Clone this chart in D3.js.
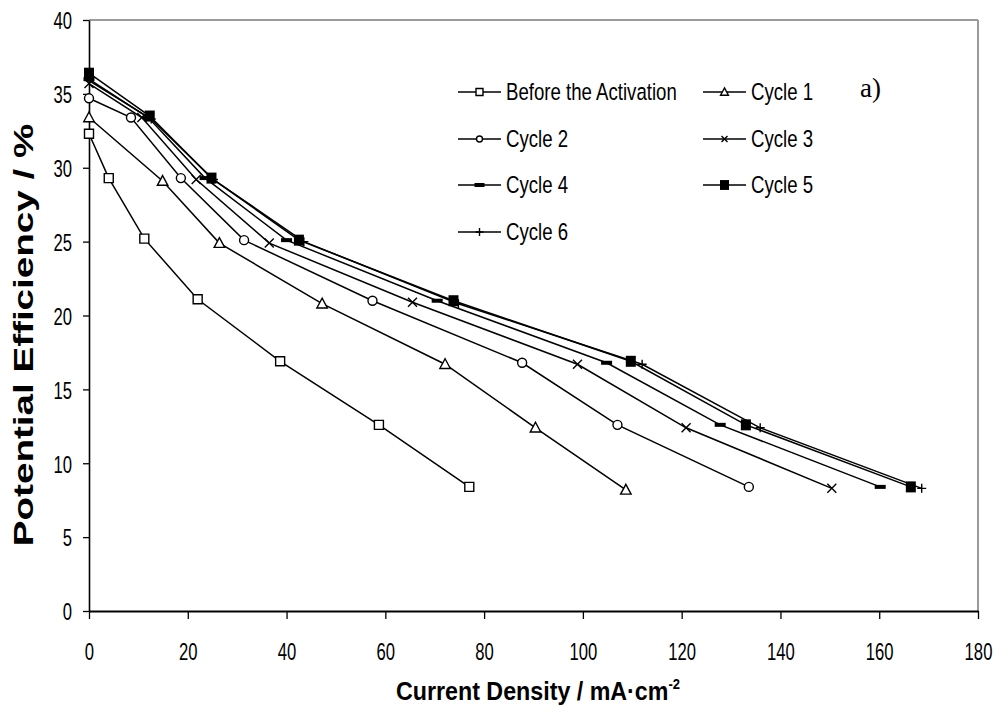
<!DOCTYPE html>
<html>
<head>
<meta charset="utf-8">
<script src="https://cdn.jsdelivr.net/npm/d3@7"></script>
<style>
  body { margin: 0; background: #fff; }
  svg { display: block; }
  text { font-family: "Liberation Sans", Arial, sans-serif; fill: #000; }
</style>
</head>
<body>
<div id="chart"></div>
<script>
// values
var seriesNames = ['Before the Activation', 'Cycle 1', 'Cycle 2', 'Cycle 3', 'Cycle 4', 'Cycle 5', 'Cycle 6'];
var markerTypes = ['square', 'triangle', 'circle', 'x', 'dash', 'filled', 'plus'];

var xBefore = [0, 4.0, 11.2, 22.0, 38.7, 58.7, 77.0];
var yBefore = [32.3, 29.3, 25.2, 21.1, 16.9, 12.6, 8.4];
var xCycle1 = [0, 14.9, 26.4, 47.2, 72.1, 90.4, 108.7];
var yCycle1 = [33.4, 29.1, 24.9, 20.8, 16.7, 12.4, 8.2];
var xCycle2 = [0, 8.5, 18.6, 31.4, 57.4, 87.7, 107.0, 133.6];
var yCycle2 = [34.7, 33.4, 29.3, 25.1, 21.0, 16.8, 12.6, 8.4];
var xCycle3 = [0, 10.7, 21.7, 36.5, 65.5, 98.9, 120.9, 150.4];
var yCycle3 = [35.7, 33.4, 29.2, 24.9, 20.9, 16.7, 12.4, 8.3];
var xCycle4 = [0, 12.0, 23.5, 40.0, 70.5, 104.8, 127.8, 160.2];
var yCycle4 = [36.0, 33.4, 29.3, 25.1, 21.0, 16.8, 12.6, 8.4];
var xCycle5 = [0, 12.3, 24.8, 42.5, 73.8, 109.7, 133.0, 166.4];
var yCycle5 = [36.4, 33.5, 29.3, 25.1, 21.0, 16.9, 12.6, 8.4];
var xCycle6 = [0, 12.6, 25.2, 43.5, 74.8, 112.0, 135.9, 168.6];
var yCycle6 = [35.9, 33.3, 29.2, 25.0, 20.8, 16.7, 12.4, 8.3];

var xTicks = [0, 20, 40, 60, 80, 100, 120, 140, 160, 180];
var yTicks = [0, 5, 10, 15, 20, 25, 30, 35, 40];

var xValues = [xBefore, xCycle1, xCycle2, xCycle3, xCycle4, xCycle5, xCycle6];
var yValues = [yBefore, yCycle1, yCycle2, yCycle3, yCycle4, yCycle5, yCycle6];

var width = 1000, height = 718;

var svg = d3.select('#chart').append('svg').attr('width', width).attr('height', height);

var xScale = d3.scaleLinear().domain([0, 180]).range([89, 978]);
var yScale = d3.scaleLinear().domain([0, 40]).range([611, 20]);

// gray frame on top and right
svg.append('line').attr('x1', xScale(0)).attr('x2', xScale(180)).attr('y1', yScale(40)).attr('y2', yScale(40))
    .attr('stroke', '#9a9a9a').attr('stroke-width', 2);
svg.append('line').attr('x1', xScale(180)).attr('x2', xScale(180)).attr('y1', yScale(40)).attr('y2', yScale(0))
    .attr('stroke', '#9a9a9a').attr('stroke-width', 2);

// axes
var tickSx = 0.68;
var yAxis = svg.append('g').attr('transform', 'translate(' + xScale(0) + ',0)')
    .call(d3.axisLeft(yScale).tickValues(yTicks).tickSize(6).tickSizeOuter(0));
var xAxis = svg.append('g').attr('transform', 'translate(0,' + yScale(0) + ')')
    .call(d3.axisBottom(xScale).tickValues(xTicks).tickSize(8).tickSizeOuter(0));

[yAxis, xAxis].forEach(function(ax) {
    ax.select('.domain').attr('stroke', '#000');
    ax.selectAll('.tick line').attr('stroke', '#000').attr('stroke-width', 1.3);
    ax.selectAll('.tick text').attr('font-size', 24.5).attr('fill', '#000')
        .style('font-family', '"Liberation Sans", Arial, sans-serif');
});
yAxis.select('.domain').attr('stroke-width', 1.6);
xAxis.select('.domain').attr('stroke-width', 2.2);
yAxis.selectAll('.tick text').attr('x', -17 / tickSx).attr('dy', '0.36em')
    .attr('transform', 'scale(' + tickSx + ',1)');
xAxis.selectAll('.tick text').attr('y', 32).attr('dy', '0.71em')
    .attr('transform', 'scale(' + tickSx + ',1)');

// markers
function markerPath(type, s) {
    var h = s / 2;
    switch (type) {
        case 'square':
            return 'M' + (-h) + ',' + (-h) + 'h' + s + 'v' + s + 'h' + (-s) + 'Z';
        case 'triangle':
            return 'M0,' + (-h * 1.1) + 'L' + (h * 1.05) + ',' + (h * 0.85) + 'L' + (-h * 1.05) + ',' + (h * 0.85) + 'Z';
        case 'x':
            return 'M' + (-h) + ',' + (-h) + 'L' + h + ',' + h + 'M' + (-h) + ',' + h + 'L' + h + ',' + (-h);
        case 'plus':
            return 'M' + (-h) + ',0H' + h + 'M0,' + (-h) + 'V' + h;
    }
}

function drawMarker(g, type, size) {
    if (type === 'circle') {
        g.append('circle').attr('r', size / 2).attr('fill', '#fff').attr('stroke', '#000').attr('stroke-width', 1.4);
    } else if (type === 'dash') {
        g.append('rect').attr('x', -size / 2).attr('y', -2).attr('width', size).attr('height', 4).attr('fill', '#000');
    } else if (type === 'filled') {
        g.append('rect').attr('x', -size / 2).attr('y', -size * 0.55).attr('width', size).attr('height', size * 1.1).attr('fill', '#000');
    } else {
        g.append('path').attr('d', markerPath(type, size))
            .attr('fill', (type === 'square' || type === 'triangle') ? '#fff' : 'none')
            .attr('stroke', '#000').attr('stroke-width', 1.4);
    }
}

var plotSizes = { square: 9, triangle: 10, circle: 9, x: 9, dash: 11, filled: 10, plus: 9 };
var legendSizes = { square: 7, triangle: 7.5, circle: 6, x: 6, dash: 10, filled: 9, plus: 8 };

var line = d3.line()
    .x(function(d) { return xScale(d[0]); })
    .y(function(d) { return yScale(d[1]); });

seriesNames.forEach(function(name, i) {
    var pts = xValues[i].map(function(x, j) { return [x, yValues[i][j]]; });
    var g = svg.append('g');
    g.append('path').datum(pts).attr('d', line)
        .attr('fill', 'none').attr('stroke', '#000').attr('stroke-width', 1.5);
    pts.forEach(function(p) {
        var m = g.append('g').attr('transform', 'translate(' + xScale(p[0]) + ',' + yScale(p[1]) + ')');
        drawMarker(m, markerTypes[i], plotSizes[markerTypes[i]]);
    });
});

// legend
var legendCols = [458, 703];
var legendRows = [92, 139, 185, 232];
var legendSx = 0.80;
seriesNames.forEach(function(name, i) {
    var col = i % 2, row = Math.floor(i / 2);
    var lx = legendCols[col], ly = legendRows[row];
    var g = svg.append('g').attr('transform', 'translate(' + lx + ',' + ly + ')');
    g.append('line').attr('x1', 0).attr('x2', 43).attr('y1', 0).attr('y2', 0)
        .attr('stroke', '#000').attr('stroke-width', 1.5);
    var m = g.append('g').attr('transform', 'translate(21.5,0)');
    drawMarker(m, markerTypes[i], legendSizes[markerTypes[i]]);
    g.append('text').attr('transform', 'translate(48,0) scale(' + legendSx + ',1)')
        .attr('dy', '0.36em').attr('font-size', 23.3).text(name);
});

// panel tag
svg.append('text').attr('x', 860).attr('y', 97)
    .style('font-family', '"Liberation Serif", "Times New Roman", serif')
    .attr('font-size', 27).text('a)');

// axis titles
svg.append('text').attr('transform', 'translate(33,335) rotate(-90) scale(1.43,1)')
    .attr('text-anchor', 'middle').attr('font-size', 27).attr('font-weight', 'bold')
    .text('Potential Efficiency / %');

var xt = svg.append('text').attr('transform', 'translate(538,700) scale(0.93,1)')
    .attr('text-anchor', 'middle').attr('font-size', 25).attr('font-weight', 'bold');
xt.append('tspan').text('Current Density / mA\u00b7cm');
xt.append('tspan').attr('dy', -11).attr('font-size', 14).text('-2');
</script>
</body>
</html>
